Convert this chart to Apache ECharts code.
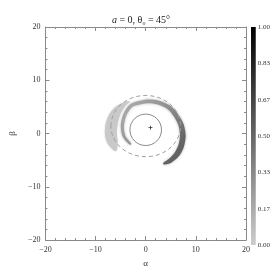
<!DOCTYPE html>
<html><head><meta charset="utf-8">
<script src="https://cdn.jsdelivr.net/npm/echarts@6/dist/echarts.min.js"></script>
<style>html,body{margin:0;padding:0;background:#fff}#c{width:273px;height:273px}</style>
</head><body><div id="c"></div>
<script>
// ---- data ----
const axisMin = -20, axisMax = 20, axisStep = 10;
const colorbarTickCount = 6;              // 0.00, 0.17, ... 1.00
const colorbarMax = 1.0;

// bright spiral arc (centre line, width in α units, intensity 0..1)
const arcAlpha = [-3.02,-4.30,-4.66,-4.11,-2.83,-1.01,1.01,3.02,4.84,6.12,7.04,7.40,7.04,6.12,4.84,3.56];
const arcBeta  = [-2.01,-0.55,1.46,3.66,5.30,5.85,6.03,5.67,4.75,3.29,1.65,-0.37,-2.38,-4.02,-5.12,-5.67];
const arcWidth = [0.40,0.58,0.66,0.68,0.72,0.75,0.8,0.85,0.92,1.02,1.12,1.2,1.2,1.15,0.95,0.40];
const arcIntensity = [0.12,0.14,0.15,0.17,0.19,0.21,0.23,0.26,0.3,0.36,0.44,0.5,0.52,0.48,0.44,0.4];

// faint crescent on the left
const crescentAlpha = [-3.20,-5.21,-6.86,-7.77,-8.14,-7.95,-7.22,-5.94,-5.58,-5.76,-5.58,-5.03,-4.11];
const crescentBeta  = [6.03,5.48,4.20,2.56,0.73,-1.10,-2.38,-3.29,-1.83,0.0,1.83,3.66,5.12];
const crescentIntensity = 0.02;

// ellipses: [centre α, centre β, radius α, radius β]
const innerCircle = [0.0, 0.7, 3.15, 2.95];
const dashedEllipse = [0.0, 1.4, 6.95, 5.75];

// marked point
const spot = [[0.95, 1.1]];

// ---- drawing ----
const FONT = 'Liberation Serif';
function gray(v, a){ const g = Math.round(205*(1-v)); return a==null ? 'rgb('+g+','+g+','+g+')' : 'rgba('+g+','+g+','+g+','+a+')'; }
const minus = v => String(v).replace('-', '\u2212');

function axisCommon(extra){
  return Object.assign({
    type:'value', min:axisMin, max:axisMax, interval:axisStep,
    axisLine:{show:true, onZero:false, lineStyle:{color:'#8a8a8a', width:1}},
    axisTick:{show:true, inside:true, length:4, lineStyle:{color:'#8a8a8a'}},
    minorTick:{show:true, splitNumber:5, length:2, lineStyle:{color:'#8a8a8a'}},
    splitLine:{show:false},
    axisLabel:{show:false}
  }, extra);
}
const labelStyle = {show:true, fontFamily:FONT, fontSize:8, color:'#333', formatter:minus};

function arcPolygon(api, widthScale){
  const P = arcAlpha.map((a,i) => api.coord([a, arcBeta[i]]));
  const n = P.length, outer = [], inner = [];
  for (let i=0;i<n;i++){
    const a = P[Math.max(0,i-1)], b = P[Math.min(n-1,i+1)];
    const tx = b[0]-a[0], ty = b[1]-a[1], L = Math.hypot(tx,ty)||1;
    const nx = -ty/L, ny = tx/L;
    const h = api.size([arcWidth[i],0])[0]/2*widthScale;
    outer.push([P[i][0]+nx*h, P[i][1]+ny*h]);
    inner.push([P[i][0]-nx*h, P[i][1]-ny*h]);
  }
  return {P, pts: outer.concat(inner.reverse())};
}
// gradient runs from the upper-left part of the arc to its darkest part (lower right)
function arcGradient(P){
  let iMax = 0;
  arcIntensity.forEach((v,i)=>{ if(v>arcIntensity[iMax]) iMax=i; });
  const iStart = 4;
  return new echarts.graphic.LinearGradient(P[iStart][0], P[iStart][1], P[iMax][0], P[iMax][1],
    [{offset:0, color:gray(arcIntensity[iStart])},
     {offset:0.45, color:gray(arcIntensity[8])},
     {offset:1, color:gray(arcIntensity[iMax])}], true);
}

const chart = echarts.init(document.getElementById('c'), null, {renderer:'canvas'});
chart.setOption({
  animation:false,
  backgroundColor:'#fff',
  title:{
    text:'{i|a} = 0, θ{s|o} = 45°', left:136, textAlign:'center', top:10,
    textStyle:{fontFamily:FONT, fontSize:10, fontWeight:'normal', color:'#222',
      rich:{i:{fontFamily:FONT, fontSize:10, fontStyle:'italic', color:'#222'},
            s:{fontFamily:FONT, fontSize:6, color:'#222', padding:[5,0,0,0]}}}
  },
  grid:[
    {left:27, right:27, top:27, bottom:28},
    {left:251, width:8, top:27, bottom:28}
  ],
  xAxis:[
    axisCommon({position:'bottom', axisLabel:Object.assign({margin:6}, labelStyle),
      name:'α', nameLocation:'middle', nameGap:18,
      nameTextStyle:{fontFamily:FONT, fontSize:9, color:'#333'}}),
    axisCommon({position:'top'}),
    {type:'category', gridIndex:1, data:['c'], show:false, boundaryGap:false}
  ],
  yAxis:[
    axisCommon({position:'left', axisLabel:Object.assign({margin:5}, labelStyle),
      name:'β', nameLocation:'middle', nameGap:19, nameRotate:90,
      nameTextStyle:{fontFamily:FONT, fontSize:9, color:'#333'}}),
    axisCommon({position:'right'}),
    {type:'value', gridIndex:1, min:0, max:colorbarTickCount, interval:1, position:'right',
      axisLine:{show:false}, axisTick:{show:false}, splitLine:{show:false},
      axisLabel:{show:true, margin:2, fontFamily:FONT, fontSize:7, color:'#333',
        formatter:v => (v/colorbarTickCount*colorbarMax).toFixed(2)}}
  ],
  series:[
    { // crescent
      type:'custom', xAxisIndex:0, yAxisIndex:0, data:[[0,0]], silent:true, z:1,
      renderItem:(params, api) => {
        const pts = crescentAlpha.map((a,i) => api.coord([a, crescentBeta[i]]));
        return {type:'polygon', shape:{points:pts, smooth:0.35},
          style:{fill:gray(crescentIntensity), stroke:'none', lineWidth:0,
                 shadowBlur:2, shadowColor:'rgba(215,215,215,0.9)'}};
      }
    },
    { // spiral arc
      type:'custom', xAxisIndex:0, yAxisIndex:0, data:[[0,0]], silent:true, z:2,
      renderItem:(params, api) => {
        const core = arcPolygon(api, 0.95);
        return {type:'polygon', shape:{points:core.pts, smooth:0.3},
            style:{fill:arcGradient(core.P), stroke:'none', lineWidth:0,
                   shadowBlur:3, shadowColor:'rgba(175,175,175,0.9)'}};
      }
    },
    { // ellipses
      type:'custom', xAxisIndex:0, yAxisIndex:0, data:[innerCircle, dashedEllipse], silent:true, z:3,
      renderItem:(params, api) => {
        const c = api.coord([api.value(0), api.value(1)]);
        const r = api.size([api.value(2), api.value(3)]);
        const dashed = params.dataIndex === 1;
        return {type:'ellipse', shape:{cx:c[0], cy:c[1], rx:r[0], ry:r[1]},
          style:{fill:'none', stroke: dashed ? '#a0a0a0' : '#7a7a7a', lineWidth: dashed ? 1 : 0.9,
                 lineDash: dashed ? [4,3] : null}};
      }
    },
    { // spot
      type:'scatter', xAxisIndex:0, yAxisIndex:0, data:spot, z:4,
      symbol:'path://M2,0h1v2h2v1h-2v2h-1v-2h-2v-1h2z', symbolSize:4,
      itemStyle:{color:'#000'}
    },
    { // colour bar
      type:'bar', xAxisIndex:2, yAxisIndex:2, data:[colorbarTickCount], barWidth:'100%', silent:true,
      itemStyle:{color:new echarts.graphic.LinearGradient(0,0,0,1,
        [{offset:0, color:gray(1)},{offset:1, color:gray(0)}])}
    }
  ]
});
</script></body></html>
